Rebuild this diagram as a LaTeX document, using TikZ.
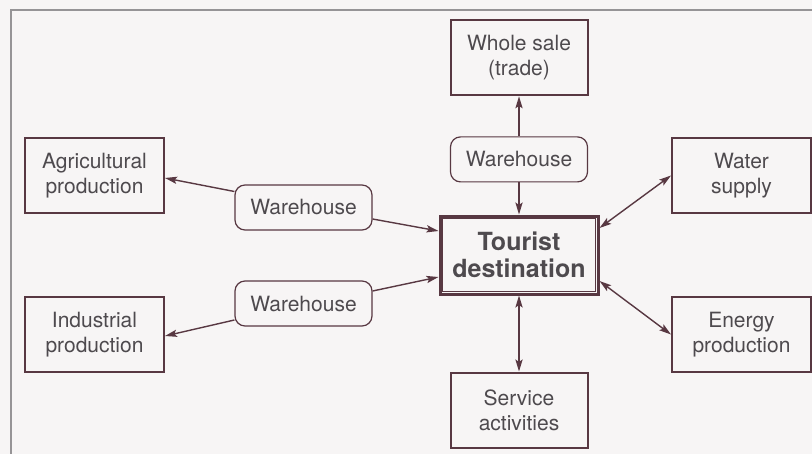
\documentclass[tikz,border=0pt]{standalone}
\usepackage{fontspec}
\setmainfont{TeX Gyre Heros}
\usetikzlibrary{positioning,arrows.meta}
\definecolor{boxbrown}{RGB}{88,56,66}
\definecolor{textgray}{RGB}{78,74,78}
\definecolor{framegray}{RGB}{150,148,150}
\definecolor{paper}{RGB}{247,245,245}

\begin{document}
\begin{tikzpicture}[x=0.5pt, y=-0.5pt, font=\fontsize{10.5}{12.5}\selectfont, text=textgray,
    nodebox/.style={rectangle, draw=boxbrown, line width=1pt, minimum width=68.5pt, minimum height=37.5pt, align=center, inner sep=2pt},
    storebox/.style={rectangle, draw=boxbrown, line width=0.6pt, rounded corners=5pt, minimum width=68.5pt, minimum height=22.5pt, align=center},
    link/.style={draw=boxbrown, line width=0.7pt, -{Stealth[length=6pt, width=3.6pt, inset=1.2pt]}},
    twolink/.style={link, {Stealth[length=6pt, width=3.6pt, inset=1.2pt]}-{Stealth[length=6pt, width=3.6pt, inset=1.2pt]}}]
        \fill[paper] (0,0) rectangle (812,454);
        \useasboundingbox (0,0) rectangle (812,454);
        \draw[framegray, line width=0.6pt] (11,454) -- (11,10) -- (812,10);

        \node[nodebox, line width=1.5pt, minimum width=79pt, minimum height=39pt, font=\bfseries\fontsize{12.5}{13.5}\selectfont] (tour) at (519,255) {Tourist\\destination};
        \draw[boxbrown, line width=0.5pt] ([shift={(2.2pt,-2.2pt)}]tour.north west) rectangle ([shift={(-2.2pt,2.2pt)}]tour.south east);

        \node[storebox, above=16pt of tour] (whtop) {Warehouse};
        \node[nodebox, above=20pt of whtop] (whole) {Whole sale\\(trade)};
        \node[nodebox, below=38pt of tour] (serv) {Service\\activities};

        \node[storebox] (storeup) at (303.5,207.5) {Warehouse};
        \node[storebox] (storedown) at (303.5,303.5) {Warehouse};
        \node[nodebox, minimum width=69.5pt] (agri) at (94.5,175.5) {Agricultural\\production};
        \node[nodebox, minimum width=69.5pt] (indu) at (94.5,334.5) {Industrial\\production};
        \node[nodebox, minimum width=69.5pt] (water) at (741.5,175.5) {Water\\supply};
        \node[nodebox, minimum width=69.5pt] (energy) at (741.5,334.5) {Energy\\production};

        \draw[link] (whtop) -- (whole);
        \draw[link] (whtop) -- (tour);
        \draw[link] ([yshift=8pt]storeup.west) -- ([yshift=-1.25pt]agri.east);
        \draw[link] ([yshift=-5.75pt]storeup.east) -- ([yshift=12pt]tour.west);
        \draw[link] ([yshift=6.25pt]storedown.east) -- ([yshift=-11pt]tour.west);
        \draw[link] ([yshift=-8.25pt]storedown.west) -- ([yshift=-0.75pt]indu.east);
        \draw[twolink] ([yshift=13.5pt]tour.east) -- (water.west);
        \draw[twolink] ([yshift=-13pt]tour.east) -- (energy.west);
        \draw[twolink] (tour) -- (serv);
\end{tikzpicture}
\end{document}
